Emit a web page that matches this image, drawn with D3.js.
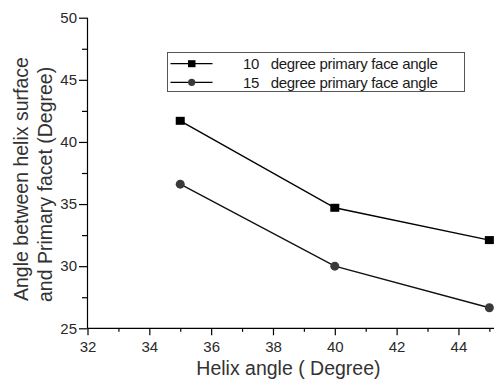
<!DOCTYPE html>
<html>
<head>
<meta charset="utf-8">
<script src="https://cdn.jsdelivr.net/npm/d3@7"></script>
<style>
  html, body { margin: 0; padding: 0; background: #fff; }
  svg { display: block; font-family: "Liberation Sans", Arial, Helvetica, sans-serif; }
</style>
</head>
<body>
<svg id="chart" width="494" height="380"></svg>
<script>
// Helix angle (degrees) on the x axis
const helixAngles = [35, 40, 45];
// Angle between helix surface and primary facet, per primary face angle
const series10 = [41.7, 34.7, 32.1];
const series15 = [36.6, 30.0, 26.65];
const seriesNames = ["10   degree primary face angle", "15   degree primary face angle"];
const xTicks = [32, 34, 36, 38, 40, 42, 44];
const yTicks = [25, 30, 35, 40, 45, 50];

const svg = d3.select("#chart");

const x = d3.scaleLinear().domain([32, 45.15]).range([87.5, 494]);
const y = d3.scaleLinear().domain([25, 50]).range([328.3, 17.7]);

// Axes with major and minor ticks
const axisG = svg.append("g");

const xAxis = axisG.append("g").attr("transform", `translate(0,${y(25)})`);
xAxis.call(d3.axisBottom(x).tickValues(d3.range(33, 46, 2)).tickSize(3.5).tickFormat(""));
xAxis.call(g => g.select(".domain").remove());
const xMajor = axisG.append("g").attr("transform", `translate(0,${y(25)})`)
  .call(d3.axisBottom(x).tickValues(xTicks).tickSize(7).tickPadding(6).tickFormat(d3.format("d")));
xMajor.select(".domain").attr("d", `M${x(32)},0H494`);

const yMinor = axisG.append("g").attr("transform", `translate(${x(32)},0)`)
  .call(d3.axisLeft(y).tickValues([27.5, 32.5, 37.5, 42.5, 47.5]).tickSize(5.5).tickFormat(""));
yMinor.select(".domain").remove();
const yMajor = axisG.append("g").attr("transform", `translate(${x(32)},0)`)
  .call(d3.axisLeft(y).tickValues(yTicks).tickSize(8.5).tickPadding(2).tickFormat(d3.format("d")));
yMajor.select(".domain").attr("d", `M0,${y(50)}V${y(25)}`);

axisG.selectAll("path.domain, line").attr("stroke", "#000").attr("stroke-width", 1.2);
axisG.selectAll("text").attr("font-size", 15).attr("fill", "#2a2a2a")
  .attr("font-family", "'Liberation Sans', Arial, sans-serif");

// Axis titles
svg.append("text")
  .attr("x", x(38.5)).attr("y", 375)
  .attr("text-anchor", "middle").attr("font-size", 19.5).attr("fill", "#333")
  .text("Helix angle ( Degree)");

const yTitle = svg.append("g").attr("transform", "translate(0,301) rotate(-90)");
yTitle.append("text").attr("x", 0).attr("y", 28)
  .attr("font-size", 19.5).attr("fill", "#333")
  .text("Angle between helix surface");
yTitle.append("text").attr("x", -1).attr("y", 52)
  .attr("font-size", 19.5).attr("fill", "#333")
  .text("and Primary facet (Degree)");

// Data lines and markers
const line = d3.line().x((d, i) => x(helixAngles[i])).y(d => y(d));

const plot = svg.append("g");
plot.append("path").datum(series10).attr("d", line)
  .attr("fill", "none").attr("stroke", "#000").attr("stroke-width", 1.4);
plot.append("path").datum(series15).attr("d", line)
  .attr("fill", "none").attr("stroke", "#111").attr("stroke-width", 1.4);

plot.selectAll("rect.m10").data(series10).enter().append("rect")
  .attr("class", "m10")
  .attr("x", (d, i) => x(helixAngles[i]) - 4.5).attr("y", d => y(d) - 4)
  .attr("width", 9).attr("height", 8).attr("fill", "#000");
plot.selectAll("circle.m15").data(series15).enter().append("circle")
  .attr("class", "m15")
  .attr("cx", (d, i) => x(helixAngles[i])).attr("cy", d => y(d))
  .attr("r", 4.5).attr("fill", "#3a3a3a");

// Legend
const legend = svg.append("g");
legend.append("rect").attr("x", 167.5).attr("y", 52.5).attr("width", 297).attr("height", 39)
  .attr("fill", "#fff").attr("stroke", "#555").attr("stroke-width", 1);
const rows = [63.7, 82.3];
rows.forEach((ry, i) => {
  legend.append("line").attr("x1", 170.5).attr("x2", 212.5).attr("y1", ry).attr("y2", ry)
    .attr("stroke", "#000").attr("stroke-width", 1.2);
  if (i === 0) {
    legend.append("rect").attr("x", 188).attr("y", ry - 3.5).attr("width", 7.5).attr("height", 7)
      .attr("fill", "#000");
  } else {
    legend.append("circle").attr("cx", 191.7).attr("cy", ry).attr("r", 3.6).attr("fill", "#3a3a3a");
  }
  legend.append("text").attr("x", 243).attr("y", ry + 5.3)
    .attr("font-size", 15).attr("letter-spacing", "-0.3px").attr("fill", "#1a1a1a")
    .attr("xml:space", "preserve").style("white-space", "pre")
    .text(seriesNames[i]);
});
</script>
</body>
</html>
